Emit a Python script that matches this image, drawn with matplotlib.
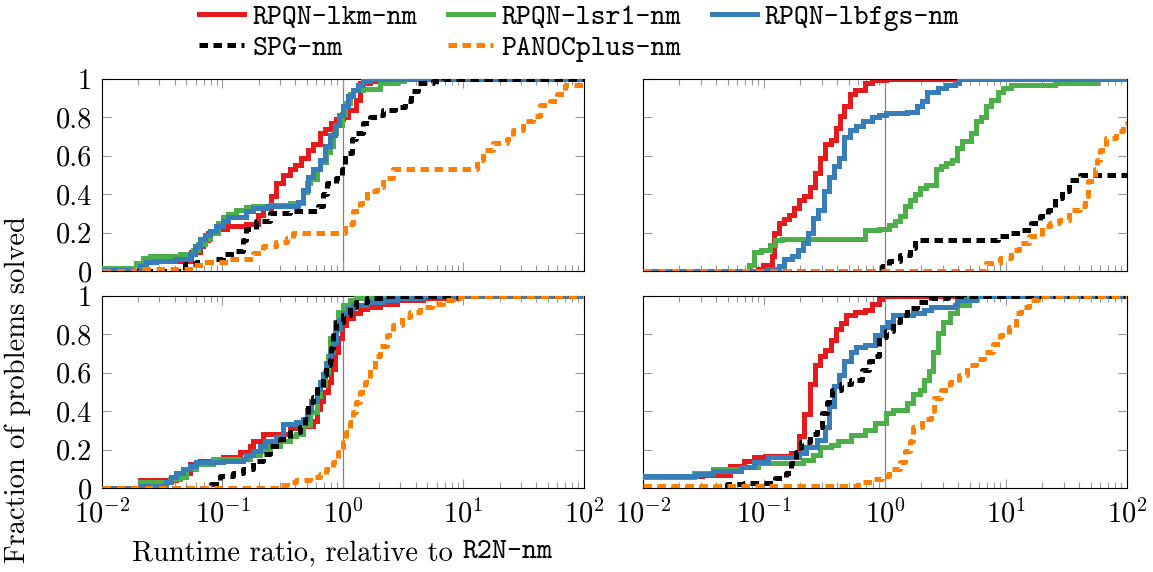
import numpy as np
import matplotlib
matplotlib.use('Agg')
import matplotlib.pyplot as plt
from matplotlib.ticker import LogLocator, NullFormatter, FixedLocator

plt.rcParams['font.family'] = 'cmr10'
plt.rcParams['mathtext.fontset'] = 'cm'
plt.rcParams['axes.formatter.use_mathtext'] = True
plt.rcParams['font.size'] = 20.5

# solver names and colours (ColorBrewer Set1)
labels = ['RPQN-lkm-nm', 'RPQN-lsr1-nm', 'RPQN-lbfgs-nm', 'SPG-nm', 'PANOCplus-nm']
colors = ['#e41a1c', '#4daf4a', '#377eb8', 'black', '#ff7f00']

# ---- top-left panel: runtime ratio (x) vs fraction solved (y)
tl_lkm_x = [0.01, 0.0206, 0.0226, 0.0552, 0.0647, 0.069, 0.0759, 0.0889, 0.108, 0.158, 0.1976, 0.217,
            0.2547, 0.2805, 0.3185, 0.3616, 0.398, 0.452, 0.514, 0.565, 0.642, 0.706, 0.802, 0.883,
            1.003, 1.104, 1.294, 1.397, 1.67, 2.02]
tl_lkm_y = [0.01, 0.03, 0.05, 0.10, 0.13, 0.16, 0.20, 0.22, 0.235, 0.245, 0.29, 0.33, 0.39, 0.46, 0.50,
            0.53, 0.55, 0.59, 0.63, 0.66, 0.72, 0.74, 0.77, 0.79, 0.80, 0.84, 0.89, 0.98, 0.99, 1.0]
tl_lsr1_x = [0.01, 0.0193, 0.0219, 0.0249, 0.0442, 0.057, 0.0627, 0.0713, 0.0784, 0.0918, 0.101, 0.111,
             0.1305, 0.158, 0.1795, 0.2466, 0.3616, 0.467, 0.498, 0.531, 0.603, 0.642, 0.729, 0.778,
             0.828, 0.883, 0.972, 1.036, 1.14, 1.214, 1.47, 2.02, 2.78, 3.2]
tl_lsr1_y = [0.014, 0.043, 0.07, 0.078, 0.087, 0.11, 0.14, 0.165, 0.20, 0.25, 0.28, 0.295, 0.32, 0.335,
             0.34, 0.345, 0.355, 0.41, 0.46, 0.48, 0.53, 0.57, 0.62, 0.65, 0.72, 0.76, 0.82, 0.875,
             0.92, 0.945, 0.95, 0.98, 0.99, 1.0]
tl_lbfgs_x = [0.01, 0.0206, 0.0233, 0.0282, 0.0401, 0.0535, 0.0589, 0.0647, 0.0713, 0.0784, 0.0889,
              0.101, 0.111, 0.158, 0.1795, 0.232, 0.425, 0.467, 0.514, 0.565, 0.642, 0.706, 0.778,
              0.855, 0.929, 1.003, 1.104, 1.214, 1.336, 1.47, 1.67]
tl_lbfgs_y = [0.005, 0.026, 0.047, 0.052, 0.065, 0.087, 0.13, 0.165, 0.19, 0.21, 0.235, 0.26, 0.28,
              0.31, 0.33, 0.34, 0.36, 0.42, 0.49, 0.53, 0.58, 0.65, 0.71, 0.76, 0.81, 0.86, 0.91,
              0.945, 0.97, 0.99, 1.0]
tl_spg_x = [0.01, 0.0487, 0.0607, 0.0809, 0.101, 0.1265, 0.148, 0.158, 0.191, 0.2466, 0.3616, 0.467,
            0.622, 0.684, 0.74, 0.883, 0.972, 1.036, 1.177, 1.294, 1.47, 1.67, 1.90, 2.16, 2.69,
            3.26, 3.70, 4.21, 5.61, 6.79]
tl_spg_y = [0.0, 0.035, 0.047, 0.065, 0.087, 0.105, 0.16, 0.22, 0.26, 0.30, 0.31, 0.315, 0.34, 0.40,
            0.46, 0.485, 0.53, 0.615, 0.685, 0.72, 0.77, 0.80, 0.81, 0.84, 0.855, 0.885, 0.935, 0.98,
            0.99, 1.0]
tl_panoc_x = [0.01, 0.0193, 0.0535, 0.069, 0.115, 0.1795, 0.217, 0.2805, 0.340, 0.386, 1.036, 1.214,
              1.38, 1.57, 1.90, 2.16, 2.61, 12.9, 14.6, 17.7, 22.8, 25.9, 31.3, 37.9, 43.1, 52.2,
              59.3, 69.5]
tl_panoc_y = [0.0, 0.01, 0.03, 0.045, 0.065, 0.095, 0.13, 0.15, 0.17, 0.20, 0.245, 0.31, 0.355,
              0.415, 0.435, 0.485, 0.53, 0.58, 0.63, 0.665, 0.685, 0.735, 0.78, 0.805, 0.865,
              0.885, 0.92, 0.97]

# ---- top-right panel
tr_lkm_x = [0.01, 0.0889, 0.0982, 0.116, 0.122, 0.132, 0.146, 0.161, 0.178, 0.196, 0.216, 0.239,
            0.264, 0.291, 0.321, 0.355, 0.392, 0.427, 0.462, 0.509, 0.562, 0.685, 0.782, 1.016]
tr_lkm_y = [0.0, 0.01, 0.033, 0.076, 0.20, 0.25, 0.27, 0.29, 0.33, 0.37, 0.39, 0.44, 0.51, 0.59,
            0.66, 0.68, 0.745, 0.805, 0.86, 0.92, 0.945, 0.98, 0.993, 1.0]
tr_lsr1_x = [0.01, 0.0755, 0.0834, 0.0951, 0.112, 0.124, 0.141, 0.685, 0.891, 1.086, 1.2, 1.325,
             1.46, 1.61, 1.78, 1.96, 2.17, 2.64, 2.92, 3.22, 3.55, 3.92, 4.32, 5.1, 5.63, 6.21,
             6.86, 7.57, 8.63, 9.53, 10.9, 25.6, 56.4]
tr_lsr1_y = [0.0, 0.033, 0.10, 0.11, 0.137, 0.163, 0.167, 0.215, 0.22, 0.24, 0.26, 0.285, 0.337,
             0.37, 0.40, 0.43, 0.45, 0.53, 0.545, 0.56, 0.58, 0.64, 0.675, 0.72, 0.78, 0.80, 0.86,
             0.89, 0.93, 0.955, 0.97, 0.98, 1.0]
tr_lbfgs_x = [0.01, 0.108, 0.132, 0.146, 0.172, 0.19, 0.21, 0.231, 0.255, 0.282, 0.311, 0.343,
              0.379, 0.418, 0.462, 0.509, 0.581, 0.662, 0.782, 0.891, 1.016, 1.51, 1.84, 2.03,
              2.24, 2.73, 3.22, 3.79, 4.05]
tr_lbfgs_y = [0.0, 0.01, 0.028, 0.06, 0.076, 0.11, 0.146, 0.20, 0.276, 0.32, 0.415, 0.49, 0.545,
              0.59, 0.70, 0.735, 0.755, 0.78, 0.80, 0.81, 0.825, 0.83, 0.86, 0.885, 0.93, 0.955,
              0.97, 0.98, 1.0]
tr_spg_x = [0.01, 0.953, 1.086, 1.325, 1.61, 1.78, 8.63, 10.5, 13.2, 16.1, 19.0, 22.4, 25.6, 29.2,
            33.3, 40.6]
tr_spg_y = [0.0, 0.025, 0.05, 0.085, 0.12, 0.163, 0.18, 0.20, 0.215, 0.25, 0.285, 0.32, 0.38, 0.415,
            0.475, 0.50]
tr_panoc_x = [0.01, 6.86, 8.93, 10.9, 12.8, 15.6, 19.7, 23.2, 27.3, 33.3, 40.6, 44.8, 47.9, 54.6,
              56.4, 60.3, 66.5, 81.1, 92.5]
tr_panoc_y = [0.0, 0.04, 0.068, 0.11, 0.146, 0.18, 0.233, 0.25, 0.267, 0.32, 0.337, 0.39, 0.467,
              0.53, 0.58, 0.632, 0.693, 0.727, 0.77]

# ---- bottom-left panel
bl_lkm_x = [0.01, 0.0206, 0.0414, 0.0501, 0.0535, 0.0647, 0.101, 0.139, 0.168, 0.1795, 0.217, 0.3616,
            0.411, 0.565, 0.603, 0.642, 0.684, 0.753, 0.802, 0.855, 0.912, 0.972, 1.069, 1.214,
            1.38, 1.57, 2.02, 2.78, 4.63, 8.76]
bl_lkm_y = [0.0, 0.04, 0.056, 0.08, 0.125, 0.14, 0.16, 0.186, 0.22, 0.247, 0.28, 0.315, 0.325, 0.35,
            0.41, 0.455, 0.50, 0.55, 0.62, 0.71, 0.78, 0.85, 0.883, 0.91, 0.93, 0.945, 0.96, 0.98,
            0.99, 1.0]
bl_lsr1_x = [0.01, 0.0206, 0.0365, 0.0442, 0.0501, 0.0607, 0.0835, 0.168, 0.204, 0.247, 0.299, 0.3616,
             0.411, 0.467, 0.531, 0.603, 0.642, 0.706, 0.753, 0.778, 0.855, 0.912, 1.003, 1.14,
             1.294, 1.90]
bl_lsr1_y = [0.0, 0.033, 0.047, 0.056, 0.10, 0.125, 0.15, 0.17, 0.195, 0.22, 0.247, 0.273, 0.282,
             0.326, 0.395, 0.48, 0.535, 0.605, 0.69, 0.78, 0.865, 0.918, 0.953, 0.98, 0.99, 1.0]
bl_lbfgs_x = [0.01, 0.0206, 0.0342, 0.0377, 0.0414, 0.0471, 0.0535, 0.0607, 0.101, 0.148, 0.158,
              0.1795, 0.204, 0.224, 0.2805, 0.3185, 0.411, 0.467, 0.498, 0.547, 0.603, 0.642, 0.684,
              0.729, 0.778, 0.828, 0.883, 0.941, 1.003, 1.104, 1.214, 1.57, 2.16, 2.78, 4.63]
bl_lbfgs_y = [0.0, 0.01, 0.03, 0.056, 0.08, 0.10, 0.117, 0.134, 0.143, 0.15, 0.17, 0.195, 0.22, 0.247,
              0.265, 0.335, 0.343, 0.36, 0.404, 0.455, 0.517, 0.552, 0.596, 0.65, 0.71, 0.76, 0.83,
              0.875, 0.91, 0.935, 0.953, 0.97, 0.98, 0.99, 1.0]
bl_spg_x = [0.01, 0.0809, 0.0949, 0.1226, 0.148, 0.1795, 0.217, 0.247, 0.299, 0.3616, 0.438, 0.482,
            0.514, 0.565, 0.603, 0.684, 0.729, 0.778, 0.802, 0.828, 0.883, 1.003, 1.14, 1.294, 1.57,
            2.16]
bl_spg_y = [0.0, 0.02, 0.064, 0.08, 0.10, 0.143, 0.178, 0.22, 0.256, 0.29, 0.317, 0.36, 0.45, 0.474,
            0.517, 0.587, 0.64, 0.665, 0.727, 0.796, 0.866, 0.90, 0.944, 0.97, 0.99, 1.0]
bl_panoc_x = [0.01, 0.299, 0.340, 0.411, 0.531, 0.642, 0.729, 0.828, 0.912, 1.003, 1.069, 1.14, 1.214,
              1.294, 1.38, 1.52, 1.67, 1.84, 2.02, 2.30, 2.61, 3.06, 3.59, 4.35, 5.43, 6.79, 8.22,
              9.34]
bl_panoc_y = [0.0, 0.016, 0.033, 0.042, 0.056, 0.073, 0.10, 0.134, 0.186, 0.24, 0.29, 0.343, 0.395,
              0.45, 0.50, 0.552, 0.62, 0.69, 0.74, 0.796, 0.848, 0.89, 0.918, 0.944, 0.96, 0.98,
              0.99, 1.0]

# ---- bottom-right panel
br_lkm_x = [0.01, 0.031, 0.0526, 0.0684, 0.0834, 0.1015, 0.166, 0.196, 0.216, 0.239, 0.264, 0.291,
            0.321, 0.355, 0.392, 0.432, 0.477, 0.562, 0.685, 0.782, 0.891, 0.953]
br_lkm_y = [0.06, 0.07, 0.115, 0.14, 0.16, 0.165, 0.18, 0.27, 0.387, 0.54, 0.64, 0.69, 0.72, 0.77,
            0.83, 0.857, 0.90, 0.915, 0.927, 0.96, 0.985, 1.0]
br_lsr1_x = [0.01, 0.0263, 0.0378, 0.064, 0.0889, 0.21, 0.255, 0.291, 0.355, 0.405, 0.526, 0.685,
             0.834, 1.016, 1.16, 1.51, 1.72, 1.96, 2.10, 2.32, 2.47, 2.73, 3.01, 3.44, 3.92, 4.94,
             5.63]
br_lsr1_y = [0.055, 0.077, 0.098, 0.11, 0.13, 0.146, 0.173, 0.216, 0.225, 0.247, 0.277, 0.303, 0.338,
             0.39, 0.408, 0.443, 0.487, 0.512, 0.564, 0.61, 0.71, 0.805, 0.866, 0.91, 0.953, 0.988,
             1.0]
br_lbfgs_x = [0.01, 0.0272, 0.0378, 0.064, 0.0834, 0.108, 0.196, 0.224, 0.272, 0.321, 0.343, 0.379,
              0.418, 0.462, 0.526, 0.581, 0.685, 0.834, 0.953, 1.05, 1.16, 1.72, 2.10, 2.39, 3.79,
              3.92, 5.63]
br_lbfgs_y = [0.06, 0.073, 0.09, 0.108, 0.134, 0.16, 0.18, 0.216, 0.25, 0.32, 0.425, 0.53, 0.59,
              0.66, 0.71, 0.735, 0.745, 0.795, 0.84, 0.866, 0.90, 0.91, 0.927, 0.945, 0.953, 0.98,
              1.0]
br_spg_x = [0.01, 0.0492, 0.0684, 0.0951, 0.124, 0.151, 0.166, 0.184, 0.203, 0.239, 0.272, 0.30,
            0.332, 0.366, 0.432, 0.526, 0.641, 0.732, 0.834, 0.891, 1.016, 1.16, 1.325, 1.51, 1.84,
            2.39, 3.33]
br_spg_y = [0.0, 0.02, 0.024, 0.028, 0.05, 0.077, 0.13, 0.19, 0.24, 0.28, 0.32, 0.39, 0.45, 0.512,
            0.54, 0.564, 0.617, 0.66, 0.69, 0.786, 0.82, 0.866, 0.90, 0.935, 0.97, 0.988, 1.0]
br_panoc_x = [0.01, 0.60, 0.782, 0.953, 1.086, 1.325, 1.46, 1.61, 1.72, 2.03, 2.39, 2.55, 2.92, 3.44,
              4.05, 4.78, 5.63, 6.64, 7.83, 8.93, 10.5, 12.0, 13.2, 15.6, 18.4]
br_panoc_y = [0.01, 0.03, 0.047, 0.065, 0.10, 0.134, 0.195, 0.247, 0.32, 0.36, 0.40, 0.47, 0.512,
              0.55, 0.59, 0.64, 0.67, 0.71, 0.75, 0.795, 0.84, 0.91, 0.945, 0.98, 1.0]

panels = [
    [(tl_lkm_x, tl_lkm_y), (tl_lsr1_x, tl_lsr1_y), (tl_lbfgs_x, tl_lbfgs_y), (tl_spg_x, tl_spg_y), (tl_panoc_x, tl_panoc_y)],
    [(tr_lkm_x, tr_lkm_y), (tr_lsr1_x, tr_lsr1_y), (tr_lbfgs_x, tr_lbfgs_y), (tr_spg_x, tr_spg_y), (tr_panoc_x, tr_panoc_y)],
    [(bl_lkm_x, bl_lkm_y), (bl_lsr1_x, bl_lsr1_y), (bl_lbfgs_x, bl_lbfgs_y), (bl_spg_x, bl_spg_y), (bl_panoc_x, bl_panoc_y)],
    [(br_lkm_x, br_lkm_y), (br_lsr1_x, br_lsr1_y), (br_lbfgs_x, br_lbfgs_y), (br_spg_x, br_spg_y), (br_panoc_x, br_panoc_y)],
]

W, H = 1153, 572
fig = plt.figure(figsize=(W / 100, H / 100), dpi=100)

# axes boxes in pixels: left, bottom(from top), width
boxes = [(102, 271, 482), (643, 271, 484), (102, 488, 482), (643, 488, 484)]
axh = 192

handles = []
for k, (px, pb, pw) in enumerate(boxes):
    ax = fig.add_axes([px / W, 1 - pb / H, pw / W, axh / H])
    ax.axvline(1.0, color='0.5', lw=0.9, zorder=1)
    for j, (xs, ys) in enumerate(panels[k]):
        xs = np.append(xs, 100.0)
        ys = np.append(ys, ys[-1])
        if j < 3:
            ln, = ax.step(xs, ys, where='post', color=colors[j], lw=3.6, zorder=2 + j,
                          solid_joinstyle='miter')
        else:
            ln, = ax.step(xs, ys, where='post', color=colors[j], lw=3.6, zorder=2 + j,
                          dashes=(1.7, 1.1), dash_capstyle='butt')
        if k == 0:
            handles.append(ln)
    ax.set_xscale('log')
    ax.set_xlim(0.01, 100)
    ax.set_ylim(0, 1)
    ax.xaxis.set_major_locator(LogLocator(base=10, numticks=10))
    ax.xaxis.set_minor_locator(LogLocator(base=10, subs=np.arange(2, 10), numticks=50))
    ax.xaxis.set_minor_formatter(NullFormatter())
    ax.yaxis.set_major_locator(FixedLocator([0, 0.2, 0.4, 0.6, 0.8, 1.0]))
    ax.set_yticklabels(['0', '0.2', '0.4', '0.6', '0.8', '1'])
    ax.tick_params(which='both', direction='in', top=True, right=True, color='0.6', width=0.8)
    ax.tick_params(which='major', length=6.5)
    ax.tick_params(which='minor', length=4.0)
    ax.tick_params(axis='x', pad=8)
    ax.tick_params(axis='y', pad=7)
    for s in ax.spines.values():
        s.set_linewidth(0.8)
    if k < 2:
        ax.tick_params(axis='x', labelbottom=False)
    if k % 2 == 1:
        ax.tick_params(axis='y', labelleft=False)

# legend: column-major order gives rows lkm/lsr1/lbfgs and SPG/PANOCplus
order = [0, 3, 1, 4, 2]
fig.legend([handles[i] for i in order], [labels[i] for i in order], ncol=3, frameon=False,
           loc='upper left', bbox_to_anchor=(185 / W, 1 + 10 / H), borderpad=0.0,
           prop={'family': 'cmtt10', 'size': 20.5}, handlelength=1.58, handletextpad=0.28,
           columnspacing=1.1, labelspacing=0.15)

fig.text(18 / W, 1 - 390 / H, 'Fraction of problems solved', rotation=90, ha='center', va='center')

# x label mixes roman and typewriter faces
t1 = fig.text(0, 1 - 553 / H, 'Runtime ratio, relative to ', ha='left', va='center')
t2 = fig.text(0, 1 - 553 / H, 'R2N-nm', family='cmtt10', ha='left', va='center')
fig.canvas.draw()
r = fig.canvas.get_renderer()
w1 = t1.get_window_extent(r).width
w2 = t2.get_window_extent(r).width
x0 = 342 - (w1 + w2) / 2
t1.set_x(x0 / W)
t2.set_x((x0 + w1) / W)

fig.savefig('out.png', dpi=100)
